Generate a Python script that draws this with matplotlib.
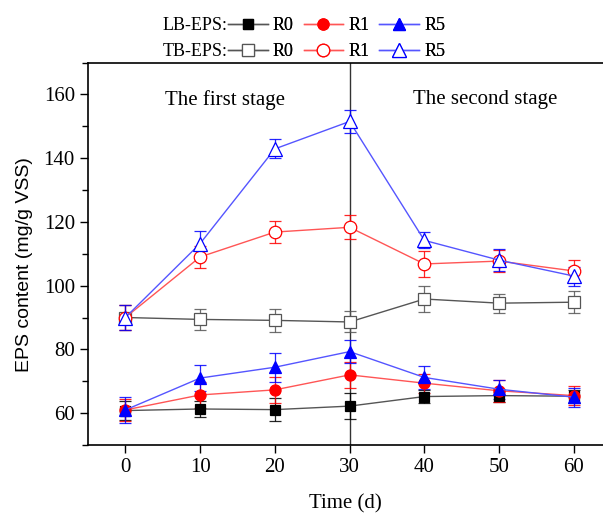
import numpy as np
import matplotlib as mpl
mpl.use("Agg")
import matplotlib.pyplot as plt
from matplotlib.ticker import MultipleLocator

plt.rcParams['font.family'] = ['Liberation Serif', 'DejaVu Serif']

days = [0, 10, 20, 30, 40, 50, 60]

# LB-EPS
lb_r0 = [60.8, 61.3, 61.1, 62.2, 65.2, 65.5, 65.3]
lb_r0_err = [3.0, 2.5, 3.5, 4.1, 2.0, 2.0, 2.0]
lb_r1 = [61.0, 65.7, 67.3, 72.0, 69.4, 67.0, 65.5]
lb_r1_err = [3.5, 4.0, 4.0, 4.0, 3.0, 3.5, 3.0]
lb_r5 = [61.0, 71.0, 74.4, 79.3, 71.2, 67.5, 65.0]
lb_r5_err = [4.0, 4.0, 4.5, 3.7, 3.5, 3.0, 3.0]

# TB-EPS
tb_r0 = [90.0, 89.4, 89.1, 88.6, 95.8, 94.5, 94.8]
tb_r0_err = [4.0, 3.3, 3.6, 3.3, 4.0, 3.0, 3.5]
tb_r1 = [90.0, 109.0, 116.8, 118.3, 106.8, 107.7, 104.6]
tb_r1_err = [4.0, 3.5, 3.5, 3.8, 4.0, 3.5, 3.5]
tb_r5 = [90.0, 113.2, 142.9, 151.5, 114.2, 108.0, 103.0]
tb_r5_err = [4.0, 4.0, 3.0, 3.5, 2.5, 3.5, 3.0]

fig = plt.figure(figsize=(6.03, 5.13), dpi=100)
ax = fig.add_axes([88/603, 68/513, 1 - 88/603, (445 - 62.5)/513])

black, red, blue = '#000000', '#ff0000', '#0000ff'
lblack, lred, lblue = '#555555', '#ff5555', '#5555ff'

series = [
    (lb_r0, lb_r0_err, 's', black, lblack, True, 7),
    (lb_r1, lb_r1_err, 'o', red, lred, True, 8),
    (lb_r5, lb_r5_err, '^', blue, lblue, True, 9),
    (tb_r0, tb_r0_err, 's', lblack, lblack, False, 8),
    (tb_r1, tb_r1_err, 'o', red, lred, False, 9),
    (tb_r5, tb_r5_err, '^', blue, lblue, False, 10),
]
handles = []
for y, e, m, c, lc, filled, ms in series:
    ax.errorbar(days, y, yerr=e, fmt='none', ecolor=c, elinewidth=0.9,
                capsize=4, capthick=0.9, zorder=2, alpha=0.85)
    h, = ax.plot(days, y, color=lc, lw=1.0, marker=m, markersize=ms,
                 markerfacecolor=c if filled else 'white',
                 markeredgecolor=c, markeredgewidth=0.9, zorder=3)
    handles.append(h)

ax.axvline(30, color='#333333', lw=1.0, zorder=1)

ax.set_xlim(-5, 63.9)
ax.set_ylim(50, 170)
ax.set_xticks(days)
ax.yaxis.set_major_locator(MultipleLocator(20))
ax.yaxis.set_minor_locator(MultipleLocator(10))
ax.tick_params(axis='both', which='major', direction='out', length=6,
               width=1.0, labelsize=15)
ax.tick_params(axis='y', which='minor', direction='out', length=4, width=1.0)
for s in ['left', 'bottom', 'top']:
    ax.spines[s].set_linewidth(1.2)
ax.spines['right'].set_visible(False)

ax.set_xlabel('Time (d)', fontsize=15, labelpad=12)
ax.set_ylabel('EPS content (mg/g VSS)', fontsize=14, family='Liberation Sans')
ax.yaxis.set_label_coords(-0.107, 0.473)

ax.text(13.3, 158.3, 'The first stage', fontsize=15, ha='center', va='center')
ax.text(48.2, 158.3, 'The second stage', fontsize=15, ha='center', va='center')

# two-row legend above the axes
for lab, hs, yc in [('LB-EPS:', handles[:3], 26), ('TB-EPS:', handles[3:], 52)]:
    fig.text(228/603, 1 - yc/513, lab, fontsize=13, ha='right', va='center')
    leg = fig.legend(hs, ['R0', 'R1', 'R5'], ncol=3, frameon=False,
                     fontsize=13, loc='center left',
                     bbox_to_anchor=(228/603, 1 - yc/513),
                     borderpad=0, borderaxespad=0, handlelength=2.2,
                     handletextpad=0.28, columnspacing=0.55)
    fig.add_artist(leg)

fig.savefig('out.png', dpi=100)
